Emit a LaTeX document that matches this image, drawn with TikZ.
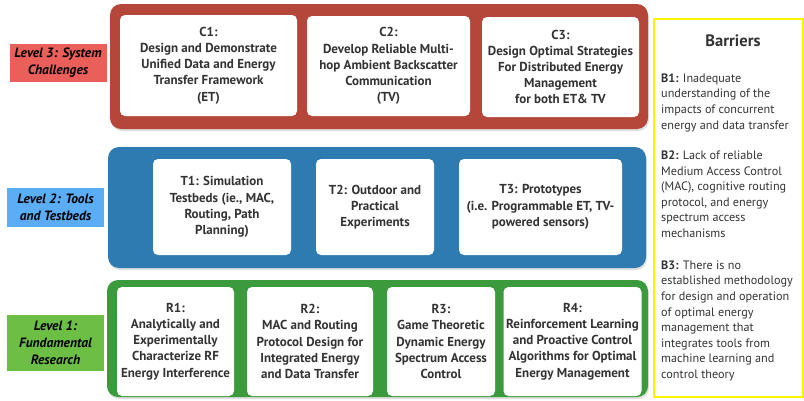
\documentclass[tikz,border=0pt]{standalone}
\usepackage{fontspec}
\setmainfont{PT Sans}
\usetikzlibrary{shadows}
\definecolor{redpanel}{HTML}{B5473A}
\definecolor{bluepanel}{HTML}{2E7BB2}
\definecolor{greenpanel}{HTML}{3A9A3C}
\definecolor{redlabel}{HTML}{EA5F5A}
\definecolor{bluelabel}{HTML}{5BADF5}
\definecolor{greenlabel}{HTML}{6DBE45}
\definecolor{txt}{HTML}{333333}
\definecolor{barrierline}{HTML}{FFF200}
\tikzset{
  panel/.style={draw=none, rounded corners=11pt, inner sep=0pt,
    drop shadow={opacity=0.25, shadow xshift=1pt, shadow yshift=-2pt}},
  card/.style={fill=white, draw=none, rounded corners=5pt, inner sep=0pt,
    align=center, text=txt, font=\fontsize{13}{16.2}\selectfont\bfseries},
  levellabel/.style={draw=none, inner sep=0pt, align=center, text=black,
    minimum width=97pt, font=\fontsize{13.5}{17}\selectfont\bfseries\itshape},
  barriertext/.style={inner sep=0pt, anchor=north west, align=left,
    text=txt, font=\fontsize{12.2}{15.6}\selectfont}
}
\begin{document}
\begin{tikzpicture}[x=1pt,y=-1pt]
\useasboundingbox (0,0) rectangle (804,400);
\fill[white] (0,0) rectangle (804,400);

% panels
\node[panel, fill=redpanel, minimum width=538pt, minimum height=125pt] (p3) at (379,66.5) {};
\node[panel, fill=bluepanel, minimum width=538pt, minimum height=121pt] (p2) at (377,207.5) {};
\node[panel, fill=greenpanel, minimum width=541pt, minimum height=117pt] (p1) at (377.5,338.5) {};

% level 3 cards
\node[card, minimum width=177pt, minimum height=101pt] (c1) at (208.5,65.5)
  {C1:\\Design and Demonstrate\\Unified Data and Energy\\Transfer Framework\\(ET)};
\node[card, minimum width=163pt, minimum height=100pt] (c2) at (388.5,66)
  {C2:\\Develop Reliable Multi-\\hop Ambient Backscatter\\Communication\\(TV)};
\node[card, minimum width=157pt, minimum height=100pt] (c3) at (560.5,67)
  {C3:\\Design Optimal Strategies\\For Distributed Energy\\Management\\for both ET\& TV};

% level 2 cards
\node[card, minimum width=138pt, minimum height=96pt] (t1) at (222,207)
  {T1: Simulation\\Testbeds (ie., MAC,\\Routing, Path\\Planning)};
\node[card, minimum width=118pt, minimum height=96pt] (t2) at (375,207)
  {T2: Outdoor and\\Practical\\Experiments};
\node[card, minimum width=163pt, minimum height=96pt] (t3) at (540.5,207)
  {T3: Prototypes\\(i.e. Programmable ET, TV-\\powered sensors)};

% level 1 cards
\node[card, minimum width=117pt, minimum height=109pt] (r1) at (175.5,341.5)
  {R1:\\Analytically and\\Experimentally\\Characterize RF\\Energy Interference};
\node[card, minimum width=126pt, minimum height=109pt] (r2) at (310,341.5)
  {R2:\\MAC and Routing\\Protocol Design for\\Integrated Energy\\and Data Transfer};
\node[card, minimum width=108pt, minimum height=109pt] (r3) at (441,341.5)
  {R3:\\Game Theoretic\\Dynamic Energy\\Spectrum Access\\Control};
\node[card, minimum width=138pt, minimum height=109pt] (r4) at (572.5,341.5)
  {R4:\\Reinforcement Learning\\and Proactive Control\\Algorithms for Optimal\\Energy Management};

% level labels
\node[levellabel, fill=redlabel, minimum height=38pt] (l3) at (58,63)
  {Level 3: System\\Challenges};
\node[levellabel, fill=bluelabel, minimum height=39pt] (l2) at (55.5,207.5)
  {Level 2: Tools\\and Testbeds};
\node[levellabel, fill=greenlabel, minimum height=56pt] (l1) at (55.5,343)
  {Level 1:\\Fundamental\\Research};

% barriers
\node[draw=barrierline, line width=2pt, fill=white, minimum width=149pt, minimum height=378pt] (bar) at (728,207.5) {};
\node[text=txt, font=\fontsize{16.5}{18}\selectfont\bfseries] (bt) at (733,41) {Barriers};
\node[barriertext] (b1) at (661,73.5)
  {\textbf{B1:} Inadequate\\understanding of the\\impacts of concurrent\\energy and data transfer};
\node[barriertext] (b2) at (661,150.5)
  {\textbf{B2:} Lack of reliable\\Medium Access Control\\(MAC), cognitive routing\\protocol, and energy\\spectrum access\\mechanisms};
\node[barriertext] (b3) at (661,260.5)
  {\textbf{B3:} There is no\\established methodology\\for design and operation\\of optimal energy\\management that\\integrates tools from\\machine learning and\\control theory};
\end{tikzpicture}
\end{document}
